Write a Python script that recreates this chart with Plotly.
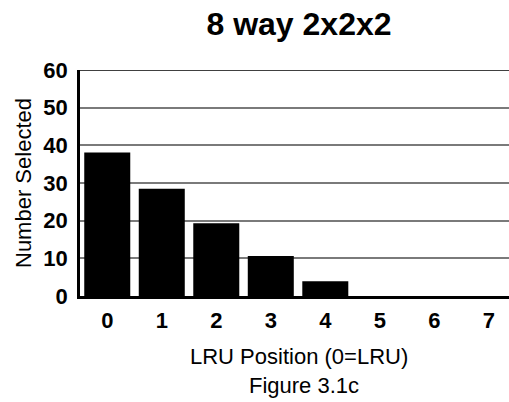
import plotly.graph_objects as go

positions = ["0", "1", "2", "3", "4", "5", "6", "7"]
selected = [38.1, 28.5, 19.3, 10.6, 3.9, 0.0, 0.0, 0.0]
y_ticks = [0, 10, 20, 30, 40, 50, 60]

W, H = 509, 402
ml, mr, mt, mb = 80, 0, 70, 106
PW, PH = W - ml - mr, H - mt - mb

fig = go.Figure(go.Bar(
    x=list(range(len(positions))), y=selected,
    marker=dict(color="black", line=dict(width=0)),
))

font = "Liberation Sans, Arial, sans-serif"
fig.update_layout(
    width=W, height=H,
    margin=dict(l=ml, r=mr, t=mt, b=mb, autoexpand=False),
    plot_bgcolor="white", paper_bgcolor="white",
    bargap=0.156,
    showlegend=False,
    font=dict(family=font, color="black"),
    title=dict(text="<b>8 way 2x2x2</b>", x=299 / W, xanchor="center",
               y=1 - 24 / H, yanchor="middle", font=dict(size=32, family=font)),
)
fig.update_xaxes(
    range=[-0.5, 7.37], automargin=False,
    tickvals=list(range(len(positions))), ticktext=[f"<b>{p}</b>" for p in positions],
    tickfont=dict(size=22), ticks="", showgrid=False, ticklabelstandoff=3,
    showline=True, linecolor="black", linewidth=2.5, zeroline=False,
)
fig.update_yaxes(
    range=[0, 60], automargin=False,
    tickvals=y_ticks, ticktext=[f"<b>{v}</b>" for v in y_ticks],
    tickfont=dict(size=22), ticks="", ticklabelstandoff=5,
    showgrid=True, gridcolor="#7a7a7a", gridwidth=1.5,
    showline=True, linecolor="black", linewidth=2.5, zeroline=False,
)
for v in [20, 40, 60]:
    fig.add_shape(type="line", xref="paper", yref="y", x0=0, x1=1, y0=v, y1=v,
                  line=dict(color="black", width=1.5), layer="below")

fig.add_annotation(text="Number Selected", xref="paper", yref="paper",
                   x=(23 - ml) / PW, y=1 - (183 - mt) / PH, textangle=-90,
                   showarrow=False, font=dict(size=22), xanchor="center", yanchor="middle")
fig.add_annotation(text="LRU Position (0=LRU)", xref="paper", yref="paper",
                   x=(299 - ml) / PW, y=-(356 - (H - mb)) / PH,
                   showarrow=False, font=dict(size=22), xanchor="center", yanchor="middle")
fig.add_annotation(text="Figure 3.1c", xref="paper", yref="paper",
                   x=(304 - ml) / PW, y=-(385 - (H - mb)) / PH,
                   showarrow=False, font=dict(size=22), xanchor="center", yanchor="middle")

fig.write_html("out.html", config={"displayModeBar": False},
               post_script="document.body.style.margin='0';document.body.style.overflow='hidden';")
